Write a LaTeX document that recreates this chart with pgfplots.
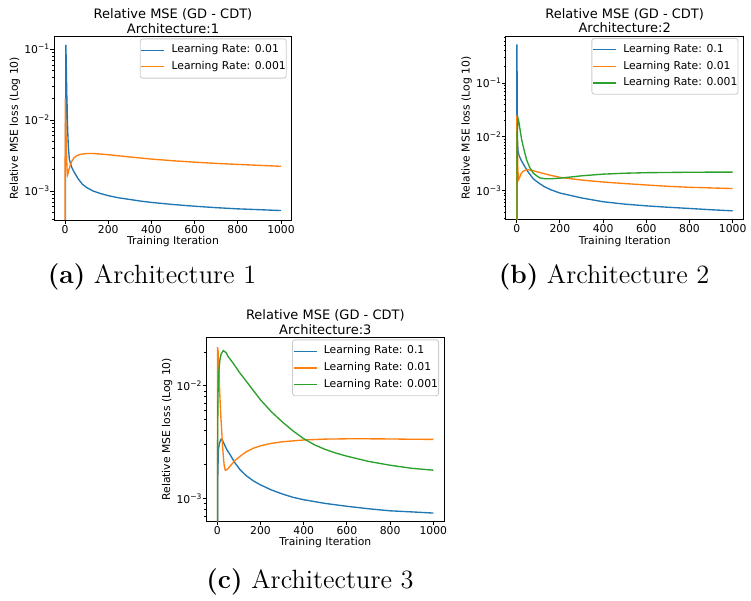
\documentclass[border=0pt]{standalone}
\usepackage{fontspec}
\usepackage{graphicx}
\usepackage{pgfplots}
\pgfplotsset{compat=1.18}
\newfontfamily\dv{DejaVu Sans}
\definecolor{c0}{HTML}{1F77B4}
\definecolor{c1}{HTML}{FF7F0E}
\definecolor{c2}{HTML}{2CA02C}
\newcommand\tfont{\dv\fontsize{10.8}{13}\selectfont}
\newcommand\ttfont{\dv\fontsize{13}{14.5}\selectfont}
\newcommand\lgap{\hspace*{6.5pt}}
\pgfplotsset{mpl/.style={
  scale only axis, width=237.6pt, height=183.3pt,
  xmin=-50, xmax=1050,
  axis line style={line width=0.86pt},
  tick pos=left,
  tick align=outside, major tick length=3.8pt, minor tick length=2.2pt,
  every major tick/.append style={line width=0.86pt, black}, every minor tick/.append style={line width=0.65pt, black},
  xtick={0,200,400,600,800,1000}, xticklabels={0,200,400,600,800,1000},
  tick label style={font=\tfont},
  xticklabel style={anchor=north, inner sep=0pt, yshift=-1pt},
  yticklabel style={anchor=east, inner sep=0pt, xshift=-0.5pt},
  xlabel={Training Iteration}, ylabel={Relative MSE loss (Log 10)},
  every axis x label/.style={at={([yshift=-21.7pt]axis description cs:0.5,0)}, anchor=center, font=\tfont},
  every axis y label/.style={at={([xshift=-39.3pt]axis description cs:0,0.5)}, anchor=center, rotate=90, font=\tfont},
  every axis title/.style={at={(axis description cs:0.5,1)}, anchor=south, align=center, font=\ttfont, yshift=3pt, inner sep=0pt},
  legend cell align=left,
  legend image code/.code={\draw[##1, line width=1.35pt] (0pt,0pt) -- (23pt,0pt);},
  legend style={at={([xshift=-5.1pt, yshift=-1.8pt]axis description cs:1,1)}, anchor=north east,
    draw=black!20, line width=0.86pt, rounded corners=2.5pt, fill=white, fill opacity=0.8, text opacity=1,
    font=\tfont, inner xsep=0.5pt, inner ysep=3pt, row sep=0pt,
    nodes={inner xsep=0pt, inner ysep=3.1pt, text height=7.9pt, text depth=2.5pt}},
  every axis plot/.append style={line width=1.35pt},
}}
\begin{document}
\begin{tikzpicture}
\useasboundingbox (0,0) rectangle (751pt,601pt);
% ---------------- (a)
\begin{semilogyaxis}[mpl, at={(54.2pt,381pt)}, anchor=south west,
  ymin=3.9e-4, ymax=0.15,
  ytick={1e-3,1e-2,1e-1},
  yticklabels={10\textsuperscript{−3},10\textsuperscript{−2},10\textsuperscript{−1}},
  minor ytick={4e-4,5e-4,6e-4,7e-4,8e-4,9e-4,2e-3,3e-3,4e-3,5e-3,6e-3,7e-3,8e-3,9e-3,2e-2,3e-2,4e-2,5e-2,6e-2,7e-2,8e-2,9e-2},
  title={Relative MSE (GD - CDT)\\Architecture:1}]
\addplot[c0] coordinates {(0,1e-6)(4,0.115)(6,0.06)(8,0.025)(10,0.015)(12,8e-3)(15,4.5e-3)(20,2.8e-3)(30,2.2e-3)(40,1.9e-3)(60,1.5e-3)(80,1.25e-3)(100,1.12e-3)(130,1.0e-3)(160,9.3e-4)(200,8.6e-4)(250,8.0e-4)(300,7.6e-4)(350,7.2e-4)(400,6.9e-4)(500,6.45e-4)(600,6.1e-4)(700,5.82e-4)(800,5.6e-4)(900,5.45e-4)(1000,5.3e-4)};
\addlegendentry{\lgap Learning Rate: 0.01}
\addplot[c1] coordinates {(0,1e-6)(1,0.02)(3,0.012)(5,6e-3)(7,3.5e-3)(9,2.2e-3)(11,1.66e-3)(14,1.75e-3)(18,2.0e-3)(25,2.35e-3)(31,2.6e-3)(40,2.9e-3)(54,3.15e-3)(75,3.3e-3)(100,3.38e-3)(130,3.38e-3)(160,3.33e-3)(200,3.25e-3)(300,3.02e-3)(400,2.82e-3)(500,2.67e-3)(600,2.55e-3)(700,2.45e-3)(800,2.37e-3)(900,2.3e-3)(1000,2.23e-3)};
\addlegendentry{\lgap Learning Rate: 0.001}
\end{semilogyaxis}
% ---------------- (b)
\begin{semilogyaxis}[mpl, at={(505.9pt,381.5pt)}, anchor=south west,
  ymin=2.9e-4, ymax=0.74,
  ytick={1e-3,1e-2,1e-1},
  yticklabels={10\textsuperscript{−3},10\textsuperscript{−2},10\textsuperscript{−1}},
  minor ytick={3e-4,4e-4,5e-4,6e-4,7e-4,8e-4,9e-4,2e-3,3e-3,4e-3,5e-3,6e-3,7e-3,8e-3,9e-3,2e-2,3e-2,4e-2,5e-2,6e-2,7e-2,8e-2,9e-2,2e-1,3e-1,4e-1,5e-1,6e-1,7e-1},
  title={Relative MSE (GD - CDT)\\Architecture:2}]
\addplot[c0] coordinates {(0,1e-6)(1,0.52)(2,0.1)(3,0.02)(4,8e-3)(6,5.5e-3)(10,4.6e-3)(20,3.7e-3)(31,3.1e-3)(50,2.3e-3)(77,1.65e-3)(100,1.4e-3)(125,1.2e-3)(154,1.05e-3)(200,9e-4)(250,8.1e-4)(300,7.3e-4)(400,6.2e-4)(500,5.6e-4)(600,5.2e-4)(700,4.9e-4)(800,4.65e-4)(900,4.4e-4)(1000,4.2e-4)};
\addlegendentry{\lgap Learning Rate: 0.1}
\addplot[c1] coordinates {(0,1e-6)(1,0.025)(3,0.008)(5,2.8e-3)(8,1.58e-3)(12,1.7e-3)(20,2.05e-3)(30,2.3e-3)(49,2.45e-3)(70,2.38e-3)(100,2.2e-3)(150,1.95e-3)(200,1.76e-3)(300,1.57e-3)(400,1.44e-3)(500,1.35e-3)(600,1.27e-3)(700,1.2e-3)(800,1.15e-3)(900,1.12e-3)(1000,1.09e-3)};
\addlegendentry{\lgap Learning Rate: 0.01}
\addplot[c2] coordinates {(0,1e-6)(2,0.012)(6,0.022)(10,0.019)(15,0.014)(23,8.8e-3)(35,5.5e-3)(46,3.7e-3)(60,2.7e-3)(77,2.1e-3)(95,1.85e-3)(108,1.72e-3)(130,1.66e-3)(160,1.66e-3)(200,1.7e-3)(300,1.88e-3)(400,2.02e-3)(500,2.1e-3)(600,2.15e-3)(700,2.17e-3)(800,2.19e-3)(900,2.2e-3)(1000,2.2e-3)};
\addlegendentry{\lgap Learning Rate: 0.001}
\end{semilogyaxis}
% ---------------- (c)
\begin{semilogyaxis}[mpl, at={(206.5pt,80pt)}, anchor=south west,
  ymin=6.3e-4, ymax=0.0267,
  ytick={1e-3,1e-2},
  yticklabels={10\textsuperscript{−3},10\textsuperscript{−2}},
  minor ytick={7e-4,8e-4,9e-4,2e-3,3e-3,4e-3,5e-3,6e-3,7e-3,8e-3,9e-3,2e-2},
  title={Relative MSE (GD - CDT)\\Architecture:3}]
\addplot[c0] coordinates {(0,1e-6)(2,1.5e-3)(5,2.7e-3)(10,3.1e-3)(17,3.34e-3)(25,3.24e-3)(35,2.95e-3)(45,2.69e-3)(59,2.45e-3)(80,2.09e-3)(105,1.8e-3)(135,1.585e-3)(167,1.43e-3)(200,1.318e-3)(250,1.19e-3)(300,1.096e-3)(350,1.023e-3)(400,9.73e-4)(500,9.02e-4)(600,8.51e-4)(700,8.09e-4)(800,7.76e-4)(900,7.59e-4)(1000,7.41e-4)};
\addlegendentry{\lgap Learning Rate: 0.1}
\addplot[c1] coordinates {(0,1e-6)(1,0.022)(4,0.02)(8,0.013)(12,8e-3)(16,5.5e-3)(20,4.1e-3)(24,3e-3)(28,2.35e-3)(32,1.95e-3)(37,1.78e-3)(45,1.8e-3)(59,1.93e-3)(80,2.15e-3)(105,2.36e-3)(135,2.6e-3)(167,2.79e-3)(200,2.93e-3)(250,3.08e-3)(300,3.18e-3)(400,3.3e-3)(500,3.36e-3)(600,3.38e-3)(700,3.38e-3)(800,3.37e-3)(900,3.35e-3)(1000,3.34e-3)};
\addlegendentry{\lgap Learning Rate: 0.01}
\addplot[c2] coordinates {(0,1e-6)(1,2e-3)(3,8e-3)(5,0.011)(8,0.014)(12,0.017)(18,0.0192)(28,0.0205)(40,0.0197)(50,0.0182)(74,0.0158)(100,0.01334)(130,0.01122)(160,9.44e-3)(200,7.5e-3)(250,5.89e-3)(300,4.79e-3)(350,3.98e-3)(400,3.39e-3)(450,2.99e-3)(500,2.72e-3)(550,2.52e-3)(600,2.37e-3)(700,2.13e-3)(800,1.97e-3)(900,1.85e-3)(1000,1.78e-3)};
\addlegendentry{\lgap Learning Rate: 0.001}
\end{semilogyaxis}
% captions
\node[anchor=base] at (152pt,317pt) {\scalebox{2.2}{\fontsize{12}{14}\selectfont\textbf{(a)} Architecture 1}};
\node[anchor=base] at (604pt,317pt) {\scalebox{2.2}{\fontsize{12}{14}\selectfont\textbf{(b)} Architecture 2}};
\node[anchor=base] at (310pt,12pt) {\scalebox{2.2}{\fontsize{12}{14}\selectfont\textbf{(c)} Architecture 3}};
\end{tikzpicture}
\end{document}
